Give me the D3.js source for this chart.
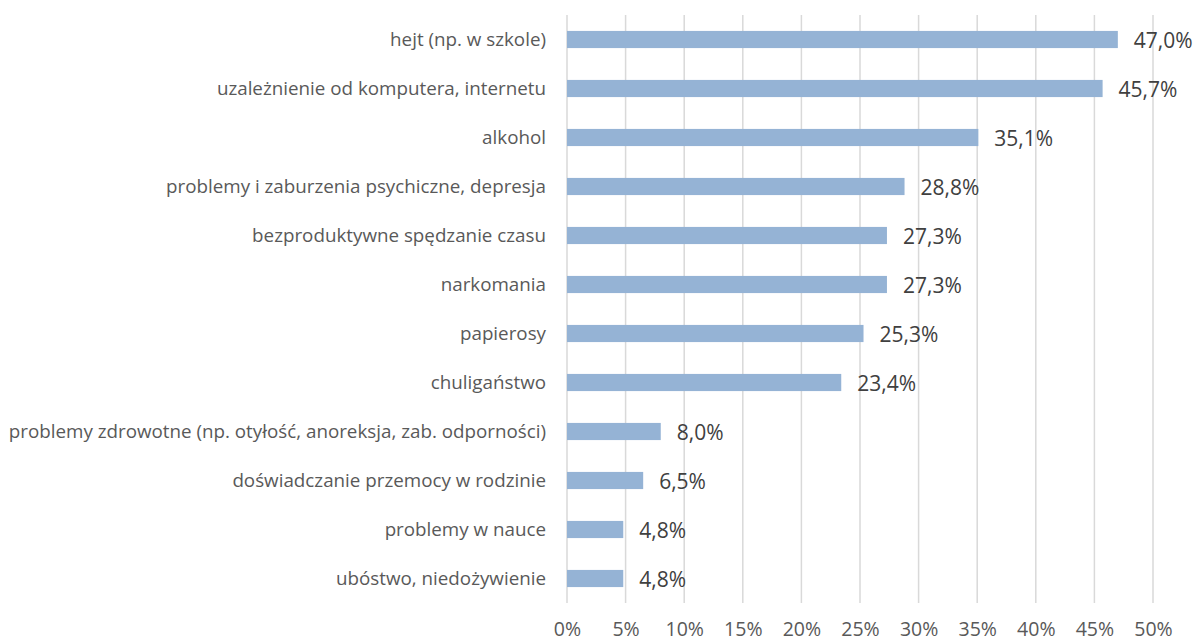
<!DOCTYPE html>
<html>
<head>
<meta charset="utf-8">
<script src="https://cdn.jsdelivr.net/npm/d3@7"></script>
<style>
  html, body { margin: 0; padding: 0; background: #fff; }
  svg { display: block; }
  text { font-family: "Open Sans", "Noto Sans", sans-serif; }
</style>
</head>
<body>
<svg id="chart" width="1196" height="643"></svg>
<script>
// Problem categories (top to bottom) and their shares in percent
const categories = [
  "hejt (np. w szkole)",
  "uzależnienie od komputera, internetu",
  "alkohol",
  "problemy i zaburzenia psychiczne, depresja",
  "bezproduktywne spędzanie czasu",
  "narkomania",
  "papierosy",
  "chuligaństwo",
  "problemy zdrowotne (np. otyłość, anoreksja, zab. odporności)",
  "doświadczanie przemocy w rodzinie",
  "problemy w nauce",
  "ubóstwo, niedożywienie"
];
const values = [47.0, 45.7, 35.1, 28.8, 27.3, 27.3, 25.3, 23.4, 8.0, 6.5, 4.8, 4.8];
const tickValues = [0, 5, 10, 15, 20, 25, 30, 35, 40, 45, 50];

const svg = d3.select("#chart");
const margin = { left: 567, right: 43, top: 15, bottom: 40 };
const width = 1196 - margin.left - margin.right;
const height = 643 - margin.top - margin.bottom;

const g = svg.append("g").attr("transform", `translate(${margin.left},${margin.top})`);

const x = d3.scaleLinear().domain([0, 50]).range([0, width]);
const y = d3.scaleBand().domain(categories).range([0, height]).paddingInner(0.65).paddingOuter(0.325);

const fmt = v => d3.format(".1f")(v).replace(".", ",") + "%";

// vertical gridlines
g.append("g")
  .selectAll("line")
  .data(tickValues)
  .join("line")
  .attr("x1", d => x(d)).attr("x2", d => x(d))
  .attr("y1", 0).attr("y2", height)
  .attr("stroke", "#d9d9d9")
  .attr("stroke-width", 1.5);

// bars
g.append("g")
  .selectAll("rect")
  .data(values)
  .join("rect")
  .attr("x", x(0))
  .attr("y", (d, i) => y(categories[i]))
  .attr("width", d => x(d) - x(0))
  .attr("height", y.bandwidth())
  .attr("fill", "#95b3d5");

// value labels
g.append("g")
  .selectAll("text")
  .data(values)
  .join("text")
  .attr("x", d => x(d) + 16)
  .attr("y", (d, i) => y(categories[i]) + y.bandwidth() / 2 + 1)
  .attr("dy", "0.35em")
  .attr("font-size", 21)
  .attr("fill", "#404040")
  .text(d => fmt(d));

// category axis
const yAxis = g.append("g")
  .call(d3.axisLeft(y).tickSize(0).tickPadding(21));
yAxis.select(".domain").remove();
yAxis.selectAll("text")
  .attr("font-size", 18.8)
  .attr("fill", "#595959")
  .style("font-family", "\"Open Sans\", sans-serif");

// percent axis
const xAxis = g.append("g")
  .attr("transform", `translate(0,${height})`)
  .call(d3.axisBottom(x).tickValues(tickValues).tickSize(0).tickPadding(0).tickFormat(d => d + "%"));
xAxis.select(".domain").remove();
xAxis.selectAll("text")
  .attr("dy", null)
  .attr("y", 33)
  .attr("font-size", 19.5)
  .attr("fill", "#595959")
  .style("font-family", "\"Open Sans\", sans-serif");
</script>
</body>
</html>
